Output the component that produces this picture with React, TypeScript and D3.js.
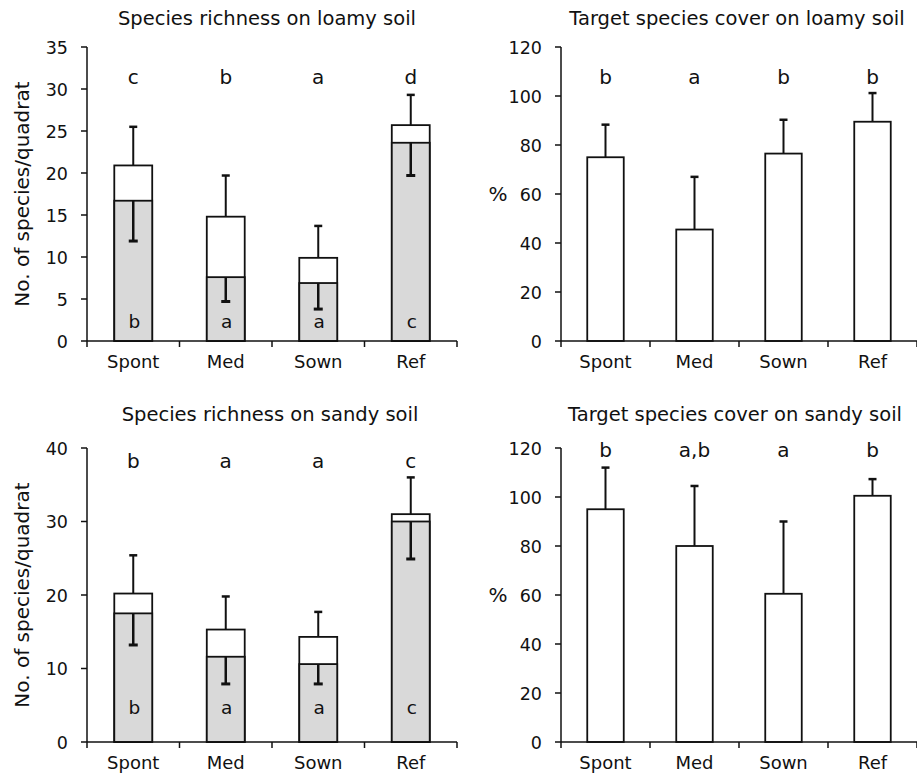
import React, { useEffect, useRef } from "react";
import * as d3 from "d3";

const categories = ["Spont", "Med", "Sown", "Ref"];

// species richness, loamy soil (white = all species, grey = target species)
const loamyAll = [20.9, 14.8, 9.9, 25.7];
const loamyAllSd = [4.6, 4.9, 3.8, 3.6];
const loamyTarget = [16.7, 7.6, 6.9, 23.6];
const loamyTargetSd = [4.8, 2.9, 3.1, 3.9];
const loamyAllLetters = ["c", "b", "a", "d"];
const loamyTargetLetters = ["b", "a", "a", "c"];

// species richness, sandy soil
const sandyAll = [20.2, 15.3, 14.3, 31.0];
const sandyAllSd = [5.2, 4.5, 3.4, 5.0];
const sandyTarget = [17.5, 11.6, 10.6, 30.0];
const sandyTargetSd = [4.3, 3.7, 2.7, 5.1];
const sandyAllLetters = ["b", "a", "a", "c"];
const sandyTargetLetters = ["b", "a", "a", "c"];

// target species cover (%)
const loamyCover = [75, 45.5, 76.5, 89.5];
const loamyCoverSd = [13.3, 21.5, 13.8, 11.7];
const loamyCoverLetters = ["b", "a", "b", "b"];
const sandyCover = [95, 80, 60.5, 100.5];
const sandyCoverSd = [17, 24.5, 29.5, 6.8];
const sandyCoverLetters = ["b", "a,b", "a", "b"];

const FONT = "'DejaVu Sans', Verdana, sans-serif";

const panels = [
  {
    title: "Species richness on loamy soil", ylabel: "No. of species/quadrat", rotate: true,
    left: 87, right: 457, top: 47, bottom: 341, yMax: 35, step: 5,
    all: loamyAll, allSd: loamyAllSd, target: loamyTarget, targetSd: loamyTargetSd,
    letters: loamyAllLetters, inner: loamyTargetLetters, letterY: 84, innerY: 328, titleX: 267, titleY: 25,
  },
  {
    title: "Target species cover on loamy soil", ylabel: "%", rotate: false,
    left: 561, right: 917, top: 47, bottom: 341, yMax: 120, step: 20,
    all: loamyCover, allSd: loamyCoverSd, target: null, targetSd: null,
    letters: loamyCoverLetters, inner: null, letterY: 84, innerY: 0, titleX: 737, titleY: 25,
  },
  {
    title: "Species richness on sandy soil", ylabel: "No. of species/quadrat", rotate: true,
    left: 87, right: 457, top: 448, bottom: 742, yMax: 40, step: 10,
    all: sandyAll, allSd: sandyAllSd, target: sandyTarget, targetSd: sandyTargetSd,
    letters: sandyAllLetters, inner: sandyTargetLetters, letterY: 468, innerY: 714, titleX: 270, titleY: 421,
  },
  {
    title: "Target species cover on sandy soil", ylabel: "%", rotate: false,
    left: 561, right: 917, top: 448, bottom: 742, yMax: 120, step: 20,
    all: sandyCover, allSd: sandyCoverSd, target: null, targetSd: null,
    letters: sandyCoverLetters, inner: null, letterY: 457, innerY: 0, titleX: 735, titleY: 421,
  },
];

const drawPanel = (svg, p) => {
  const x = d3.scaleBand().domain(categories).range([p.left, p.right]);
  const y = d3.scaleLinear().domain([0, p.yMax]).range([p.bottom, p.top]);
  const bw = x.bandwidth() * 0.41;
  const cx = (c) => x(c) + x.bandwidth() / 2;
  const g = svg.append("g");

  // title
  g.append("text")
    .attr("x", p.titleX)
    .attr("y", p.titleY)
    .attr("text-anchor", "middle")
    .attr("font-size", 19.5)
    .text(p.title);

  // y axis
  const ticks = d3.range(0, p.yMax + 0.001, p.step);
  g.append("line")
    .attr("x1", p.left).attr("x2", p.left)
    .attr("y1", p.top).attr("y2", p.bottom)
    .attr("stroke", "#111").attr("stroke-width", 1.5);
  g.selectAll(".ytick").data(ticks).join("line")
    .attr("x1", p.left - 6).attr("x2", p.left)
    .attr("y1", (d) => y(d)).attr("y2", (d) => y(d))
    .attr("stroke", "#111").attr("stroke-width", 1.5);
  g.selectAll(".ylab").data(ticks).join("text")
    .attr("x", p.left - 19)
    .attr("y", (d) => y(d) + 6.5)
    .attr("text-anchor", "end")
    .attr("font-size", 17.5)
    .text((d) => d);

  if (p.rotate) {
    g.append("text")
      .attr("transform", `translate(29, ${(p.top + p.bottom) / 2}) rotate(-90)`)
      .attr("text-anchor", "middle")
      .attr("font-size", 20)
      .text(p.ylabel);
  } else {
    g.append("text")
      .attr("x", p.left - 63)
      .attr("y", y(p.yMax / 2) + 7)
      .attr("text-anchor", "middle")
      .attr("font-size", 20)
      .text(p.ylabel);
  }

  // white bars (total) with upper error bar
  categories.forEach((c, i) => {
    const top = y(p.all[i]);
    const err = y(p.all[i] + p.allSd[i]);
    g.append("line")
      .attr("x1", cx(c)).attr("x2", cx(c)).attr("y1", top).attr("y2", err)
      .attr("stroke", "#111").attr("stroke-width", 2);
    g.append("line")
      .attr("x1", cx(c) - 4).attr("x2", cx(c) + 4).attr("y1", err).attr("y2", err)
      .attr("stroke", "#111").attr("stroke-width", 2.5);
    g.append("rect")
      .attr("x", cx(c) - bw / 2).attr("width", bw)
      .attr("y", top).attr("height", p.bottom - top)
      .attr("fill", "#fff").attr("stroke", "#111").attr("stroke-width", 1.8);
  });

  // grey bars (target species) with lower error bar
  if (p.target) {
    categories.forEach((c, i) => {
      const top = y(p.target[i]);
      const err = y(p.target[i] - p.targetSd[i]);
      g.append("rect")
        .attr("x", cx(c) - bw / 2).attr("width", bw)
        .attr("y", top).attr("height", p.bottom - top)
        .attr("fill", "#d9d9d9").attr("stroke", "#111").attr("stroke-width", 1.8);
      g.append("line")
        .attr("x1", cx(c)).attr("x2", cx(c)).attr("y1", top).attr("y2", err)
        .attr("stroke", "#111").attr("stroke-width", 2.5);
      g.append("line")
        .attr("x1", cx(c) - 4.5).attr("x2", cx(c) + 4.5).attr("y1", err).attr("y2", err)
        .attr("stroke", "#111").attr("stroke-width", 3);
      g.append("text")
        .attr("x", cx(c) + 1).attr("y", p.innerY)
        .attr("text-anchor", "middle").attr("font-size", 18.5)
        .text(p.inner[i]);
    });
  }

  // letters above
  g.selectAll(".let").data(categories).join("text")
    .attr("x", (c) => cx(c))
    .attr("y", p.letterY)
    .attr("text-anchor", "middle")
    .attr("font-size", 20)
    .text((c, i) => p.letters[i]);

  // x axis
  g.append("line")
    .attr("x1", p.left).attr("x2", p.right)
    .attr("y1", p.bottom).attr("y2", p.bottom)
    .attr("stroke", "#111").attr("stroke-width", 1.5);
  const edges = categories.map((c) => x(c)).concat([p.right]);
  g.selectAll(".xtick").data(edges).join("line")
    .attr("x1", (d) => d).attr("x2", (d) => d)
    .attr("y1", p.bottom).attr("y2", p.bottom + 6)
    .attr("stroke", "#111").attr("stroke-width", 1.5);
  g.selectAll(".xlab").data(categories).join("text")
    .attr("x", (c) => cx(c))
    .attr("y", p.bottom + 27)
    .attr("text-anchor", "middle")
    .attr("font-size", 18)
    .text((c) => c);
};

const App = () => {
  const svgRef = useRef(null);

  useEffect(() => {
    const svg = d3.select(svgRef.current);
    svg.selectAll("*").remove();
    panels.forEach((p) => drawPanel(svg, p));
  }, []);

  return (
    <svg
      ref={svgRef}
      width={917}
      height={775}
      style={{ position: "absolute", left: 0, top: 0, background: "#fff", fontFamily: FONT, fill: "#111" }}
    />
  );
};

export default App;
